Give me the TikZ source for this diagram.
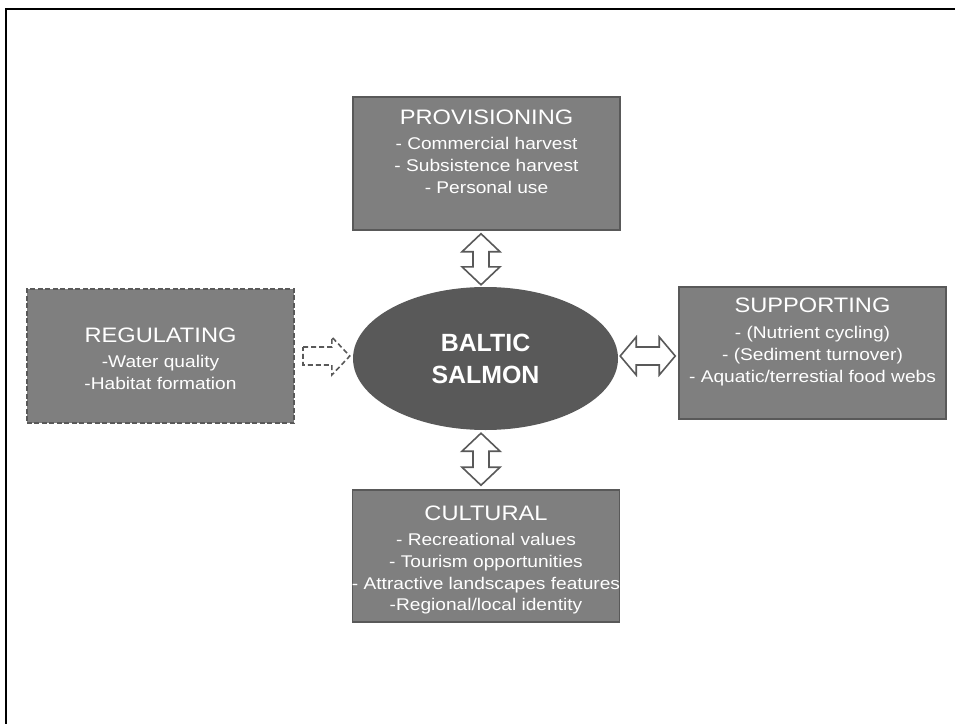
\documentclass[tikz,border=0pt]{standalone}
\usepackage{fontspec}
\setmainfont{Liberation Sans}
\newfontfamily\widesans[FakeStretch=1.13]{Liberation Sans}
\usetikzlibrary{calc,shapes.geometric}
\definecolor{boxfill}{HTML}{7F7F7F}
\definecolor{boxline}{HTML}{595959}
\definecolor{ovalfill}{HTML}{595959}
\begin{document}
\begin{tikzpicture}[x=1bp,y=-1bp,
  box/.style={draw=boxline, fill=boxfill, line width=1.5bp, minimum width=267bp, inner sep=0pt},
  txt/.style={text=white, align=center, inner sep=0pt, anchor=north, font=\widesans\fontsize{17}{22}\selectfont},
  ttl/.style={font=\fontsize{21}{25}\selectfont},
  arr/.style={draw=boxline, fill=white, line width=1.6bp, line join=miter},
  frameline/.style={draw=black, line width=2bp}]
\useasboundingbox (0,0) rectangle (960,724);
% frame
\coordinate (fl) at (6,724);
\coordinate (fc) at (6,9);
\coordinate (fr) at (955,9);
\draw[frameline] (fl) -- (fc) -- (fr);
% boxes
\node[box, minimum height=133bp] (prov) at (486.5,163.5) {};
\node[box, minimum height=132bp] (supp) at (812.5,353) {};
\node[box, minimum height=132bp] (cult) at (486,556) {};
\node[box, minimum height=134bp, line width=2bp, dashed, dash pattern=on 5bp off 2.5bp] (reg) at (160.5,356) {};
\node[ellipse, fill=ovalfill, minimum width=265bp, minimum height=143bp, inner sep=0pt] (salmon) at (485.5,358.5) {};
% texts
\node[txt] (provt) at (486.5,109.5) {{\fontsize{21}{25}\selectfont PROVISIONING}\\[3bp]- Commercial harvest\\- Subsistence harvest\\- Personal use};
\node[txt] (suppt) at (812.5,297.5) {{\fontsize{21}{25}\selectfont SUPPORTING}\\[4bp]- (Nutrient cycling)\\- (Sediment turnover)\\- Aquatic/terrestial food webs};
\node[txt] (cultt) at (486,505.5) {{\fontsize{21}{25}\selectfont CULTURAL}\\[3bp]- Recreational values\\- Tourism opportunities\\- Attractive landscapes features\\-Regional/local identity};
\node[txt] (regt) at (160.5,327.5) {{\fontsize{21}{25}\selectfont REGULATING}\\[3bp]-Water quality\\-Habitat formation};
\node[text=white, align=center, inner sep=0pt, font=\bfseries\fontsize{25}{32}\selectfont] (salmont) at (485.5,358.5) {BALTIC\\SALMON};
% arrows
\coordinate (ta) at ($(prov.south)+(-5.5,3)$);
\coordinate (tb) at ($(salmon.north)+(-4.5,-2)$);
\draw[arr] (ta) -- ($(ta)+(19,18)$) -- ($(ta)+(8,18)$) -- ($(tb)+(8,-18)$) -- ($(tb)+(19,-18)$) -- (tb)
  -- ($(tb)+(-19,-18)$) -- ($(tb)+(-8,-18)$) -- ($(ta)+(-8,18)$) -- ($(ta)+(-19,18)$) -- cycle;
\coordinate (ba) at ($(salmon.south)+(-4.5,3)$);
\coordinate (bb) at ($(cult.north)+(-5,-4)$);
\draw[arr] (ba) -- ($(ba)+(19,18)$) -- ($(ba)+(8,18)$) -- ($(bb)+(8,-18)$) -- ($(bb)+(19,-18)$) -- (bb)
  -- ($(bb)+(-19,-18)$) -- ($(bb)+(-8,-18)$) -- ($(ba)+(-8,18)$) -- ($(ba)+(-19,18)$) -- cycle;
\coordinate (ra) at ($(salmon.east)+(2,-2.5)$);
\coordinate (rb) at ($(supp.west)+(-3,3)$);
\draw[arr] (ra) -- ($(ra)+(16,-19)$) -- ($(ra)+(16,-9)$) -- ($(rb)+(-16,-9)$) -- ($(rb)+(-16,-19)$) -- (rb)
  -- ($(rb)+(-16,19)$) -- ($(rb)+(-16,9)$) -- ($(ra)+(16,9)$) -- ($(ra)+(16,19)$) -- cycle;
\coordinate (la) at ($(reg.east)+(8,0)$);
\coordinate (lb) at ($(salmon.west)+(-3,-2.5)$);
\draw[arr, dashed, dash pattern=on 5bp off 3bp] ($(la)+(0,-9)$) -- ($(lb)+(-18,-9)$) -- ($(lb)+(-18,-19)$) -- (lb)
  -- ($(lb)+(-18,19)$) -- ($(lb)+(-18,9)$) -- ($(la)+(0,9)$) -- cycle;
\end{tikzpicture}
\end{document}
